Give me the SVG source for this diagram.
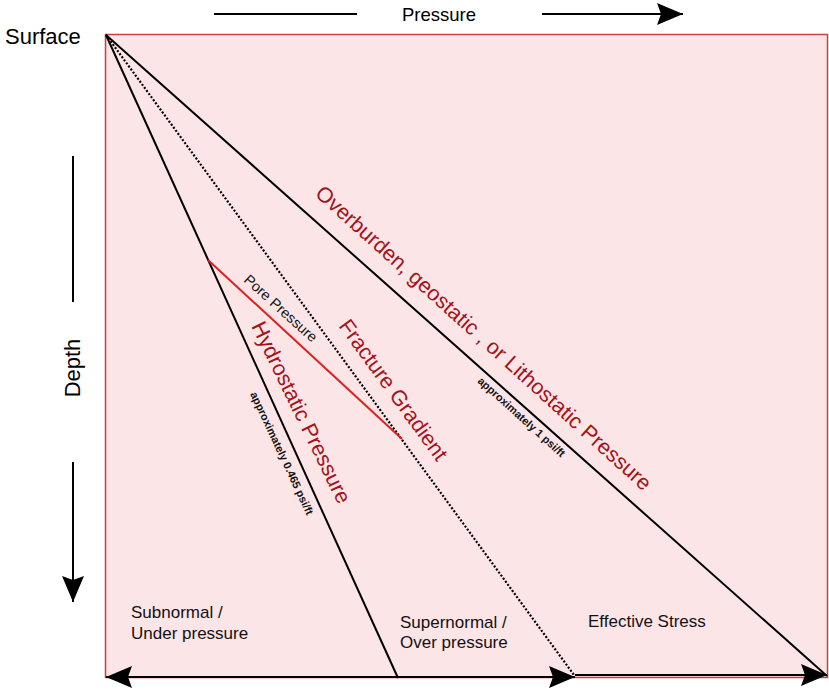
<svg xmlns="http://www.w3.org/2000/svg" width="829" height="691" viewBox="0 0 829 691">
<defs>
<marker id="ah" viewBox="0 0 26 22" refX="26" refY="11" markerWidth="26" markerHeight="22" markerUnits="userSpaceOnUse" orient="auto-start-reverse">
<path d="M0,0 L26,11 L0,22 L4,11 z" fill="#000"/>
</marker>
</defs>
<style>
text{font-family:"Liberation Sans",Arial,sans-serif;}
.ax{font-size:22px;fill:#000;}
.red{font-size:21.5px;fill:#a3131b;}
.zone{font-size:17px;fill:#111;}
.rate{font-size:11px;font-weight:bold;fill:#111;}
.ln{stroke:#000;stroke-width:2;fill:none;}
.dot{stroke:#000;stroke-width:2.2;stroke-dasharray:2 1.8;fill:none;}
</style>
<rect x="0" y="0" width="829" height="691" fill="#fff"/>
<g id="plot">
<rect x="105.5" y="34.5" width="722" height="643" fill="#fce5e7" stroke="#c9403f" stroke-width="1.5"/>
</g>
<g id="connectors">
<line class="ln" x1="214" y1="14" x2="357" y2="14"/>
<line class="ln" x1="542" y1="14" x2="683" y2="14" marker-end="url(#ah)"/>
<line class="ln" x1="73" y1="156" x2="73" y2="302"/>
<line class="ln" x1="73" y1="462" x2="73" y2="602" marker-end="url(#ah)"/>
<line class="ln" x1="106" y1="35" x2="398" y2="678"/>
<line class="dot" x1="106" y1="35" x2="574" y2="675"/>
<line class="ln" x1="106" y1="35" x2="827" y2="676"/>
<line x1="208" y1="260" x2="402" y2="439" stroke="#e02020" stroke-width="2"/>
<line class="ln" x1="106" y1="677" x2="575" y2="677" marker-start="url(#ah)" marker-end="url(#ah)"/>
<line class="ln" x1="575" y1="675" x2="827" y2="675" marker-end="url(#ah)"/>
</g>
<g id="axis-labels">
<text class="ax" x="5" y="44">Surface</text>
<text x="402" y="21" style="font-size:18.5px">Pressure</text>
<text class="ax" text-anchor="middle" transform="translate(80,368) rotate(-90)">Depth</text>
</g>
<g id="overburden">
<text class="red" transform="translate(314,195) rotate(42)">Overburden, geostatic , or Lithostatic Pressure</text>
<text class="rate" transform="translate(477,382) rotate(42)">approximately 1 psi/ft</text>
</g>
<g id="fracture">
<text class="red" transform="translate(338,326) rotate(54)">Fracture Gradient</text>
</g>
<g id="hydrostatic">
<text class="red" transform="translate(251,326) rotate(64)">Hydrostatic Pressure</text>
<text class="rate" transform="translate(250,394) rotate(65)">approximately 0.465 psi/ft</text>
</g>
<g id="pore">
<text style="font-size:14.5px" fill="#111" transform="translate(243,281) rotate(42)">Pore Pressure</text>
</g>
<g id="zones">
<text class="zone" x="131" y="618">Subnormal /</text>
<text class="zone" x="131" y="639">Under pressure</text>
<text class="zone" x="400" y="628">Supernormal /</text>
<text class="zone" x="400" y="648">Over pressure</text>
<text class="zone" x="588" y="627">Effective Stress</text>
</g>
</svg>
